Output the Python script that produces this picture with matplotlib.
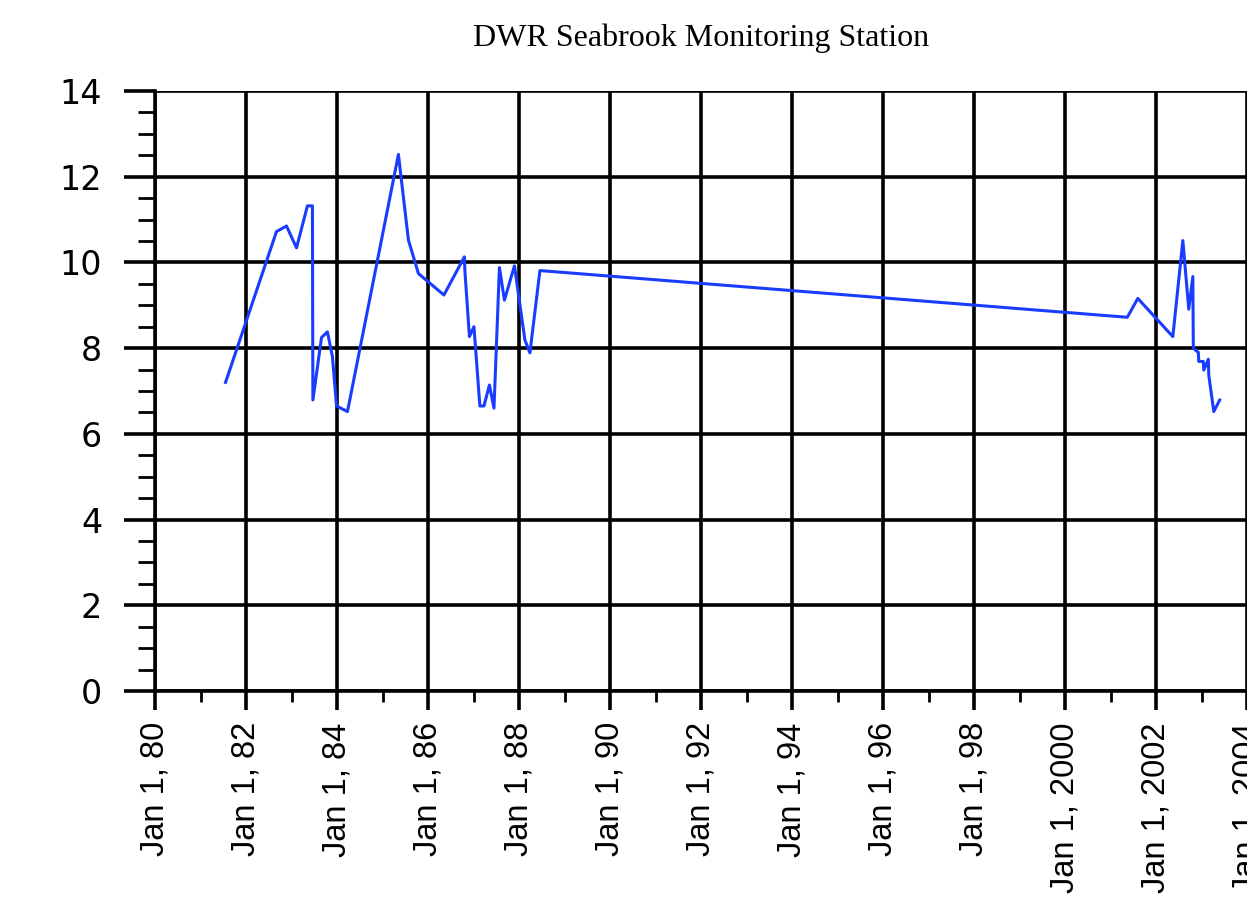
import matplotlib
matplotlib.use("Agg")
import matplotlib.pyplot as plt
from matplotlib import font_manager
from matplotlib.ticker import FixedLocator, MultipleLocator

# sample dates as decimal years
years = [1981.55, 1982.67, 1982.89, 1983.11, 1983.35, 1983.46, 1983.47,
         1983.66, 1983.79, 1983.90, 1983.99, 1984.23, 1985.35, 1985.57,
         1985.79, 1986.35, 1986.80, 1986.81, 1986.91, 1987.01, 1987.14,
         1987.23, 1987.35, 1987.45, 1987.57, 1987.68, 1987.90, 1988.13,
         1988.24, 1988.46, 2001.37, 2001.60, 2002.37, 2002.59, 2002.72,
         2002.81, 2002.82, 2002.93, 2002.94, 2003.04, 2003.05, 2003.15,
         2003.16, 2003.27, 2003.40]
values = [7.20, 10.72, 10.85, 10.34, 11.32, 11.32, 6.79,
          8.25, 8.38, 7.80, 6.65, 6.52, 12.52, 10.52,
          9.74, 9.24, 10.13, 9.82, 8.27, 8.50, 6.65,
          6.65, 7.14, 6.60, 9.88, 9.12, 9.92, 8.19,
          7.89, 9.81, 8.72, 9.16, 8.27, 10.51, 8.91,
          9.67, 8.00, 7.90, 7.69, 7.69, 7.49, 7.74,
          7.37, 6.52, 6.79]

tick_years = list(range(1980, 2005, 2))
tick_labels = [f"Jan 1, {y % 100:02d}" if y < 2000 else f"Jan 1, {y}" for y in tick_years]

names = {f.name for f in font_manager.fontManager.ttflist}
if "Liberation Sans Narrow" in names:
    xfont, xsize = "Liberation Sans Narrow", 28
else:
    xfont, xsize = "Liberation Sans", 23.5

fig = plt.figure(figsize=(12.47, 9.05), dpi=100)
ax = fig.add_axes([155 / 1247, 1 - 691 / 905, 1 - 155 / 1247, 600 / 905])

ax.plot(years, values, color="#1a3cff", lw=2.2, zorder=3)

ax.set_xlim(1980, 2004)
ax.set_ylim(0, 14)
ax.xaxis.set_major_locator(FixedLocator(tick_years))
ax.xaxis.set_minor_locator(FixedLocator(list(range(1981, 2004, 2))))
ax.set_xticklabels(tick_labels, rotation=90, family=xfont, fontsize=xsize)
ax.yaxis.set_major_locator(MultipleLocator(2))
ax.yaxis.set_minor_locator(MultipleLocator(0.5))
for lab in ax.get_yticklabels():
    lab.set_family("DejaVu Sans")
    lab.set_fontsize(24)

ax.grid(which="major", color="black", lw=2.6, zorder=1)
for s in ["top", "right"]:
    ax.spines[s].set_visible(False)
for s in ["left", "bottom"]:
    ax.spines[s].set_linewidth(2.6)

ax.tick_params(axis="y", which="major", length=22, width=2.6, pad=16)
ax.tick_params(axis="y", which="minor", length=12, width=2.0)
ax.tick_params(axis="x", which="major", length=13.5, width=2.6, pad=9)
ax.tick_params(axis="x", which="minor", length=8, width=2.0)

fig.text((155 + 1247) / 2 / 1247, 1 - 46 / 905, "DWR Seabrook Monitoring Station",
         ha="center", va="baseline", family="Liberation Serif", fontsize=23)

fig.savefig("out.png", dpi=100)
